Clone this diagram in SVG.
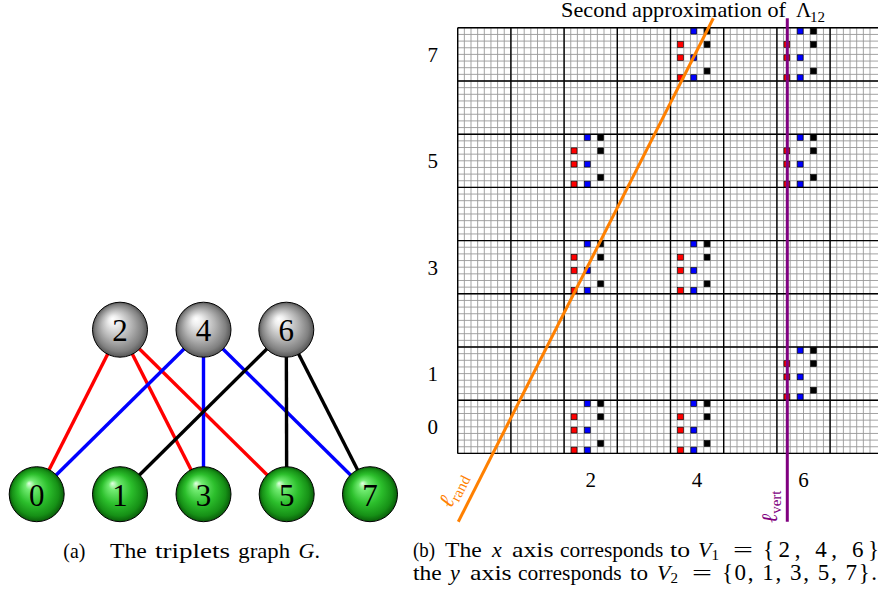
<svg xmlns="http://www.w3.org/2000/svg" xmlns:xlink="http://www.w3.org/1999/xlink" width="878" height="601" viewBox="0 0 878 601">
<style>
.serif{font-family:"Liberation Serif","DejaVu Serif",serif;fill:#000}
.nl{font-family:"Liberation Serif","DejaVu Serif",serif;font-size:31px;text-anchor:middle;fill:#000}
.edge{stroke-width:3.4;fill:none}
.red{stroke:#ff0000}.blue{stroke:#0000ff}.blk{stroke:#000}
.ball{stroke:#000;stroke-width:1}
.minor{stroke:#999999;stroke-width:0.9;fill:none}
.major{stroke:#000;stroke-width:1.4;fill:none}
.tick{font-family:"Liberation Serif","DejaVu Serif",serif;font-size:21px;text-anchor:middle;fill:#000}
.cap{font-family:"Liberation Serif","DejaVu Serif",serif;font-size:22px;fill:#000}
.it{font-style:italic}
.sq{stroke:#000;stroke-width:0.6}
</style>
<defs>
<radialGradient id="gGray" cx="0.5" cy="0.5" r="0.5" fx="0.36" fy="0.3">
<stop offset="0" stop-color="#ffffff"/>
<stop offset="0.18" stop-color="#eeeeee"/>
<stop offset="0.55" stop-color="#b4b4b4"/>
<stop offset="0.85" stop-color="#808080"/>
<stop offset="1" stop-color="#555555"/>
</radialGradient>
<radialGradient id="gGreen" cx="0.5" cy="0.5" r="0.5" fx="0.36" fy="0.3">
<stop offset="0" stop-color="#e4ffe4"/>
<stop offset="0.18" stop-color="#72ec72"/>
<stop offset="0.55" stop-color="#2cbf2c"/>
<stop offset="0.85" stop-color="#169016"/>
<stop offset="1" stop-color="#0a5c0a"/>
</radialGradient>
<g id="cl">
<rect class="sq" x="20.37" y="0.42" width="5.8" height="5.8" fill="#0000ff"/>
<rect class="sq" x="33.67" y="0.42" width="5.8" height="5.8" fill="#000"/>
<rect class="sq" x="7.07" y="13.72" width="5.8" height="5.8" fill="#ff0000"/>
<rect class="sq" x="33.67" y="13.72" width="5.8" height="5.8" fill="#000"/>
<rect class="sq" x="7.07" y="27.02" width="5.8" height="5.8" fill="#ff0000"/>
<rect class="sq" x="20.37" y="27.02" width="5.8" height="5.8" fill="#0000ff"/>
<rect class="sq" x="33.67" y="40.32" width="5.8" height="5.8" fill="#000"/>
<rect class="sq" x="7.07" y="46.97" width="5.8" height="5.8" fill="#ff0000"/>
<rect class="sq" x="20.37" y="46.97" width="5.8" height="5.8" fill="#0000ff"/>
</g>
</defs>

<!-- (a) graph -->
<g id="connectors">
<line class="edge red" x1="120" y1="329.7" x2="36.7" y2="494.2"/>
<line class="edge red" x1="120" y1="329.7" x2="203.5" y2="494.2"/>
<line class="edge red" x1="120" y1="329.7" x2="286.7" y2="494.2"/>
<line class="edge blue" x1="203.5" y1="329.7" x2="36.7" y2="494.2"/>
<line class="edge blue" x1="203.5" y1="329.7" x2="203.5" y2="494.2"/>
<line class="edge blue" x1="203.5" y1="329.7" x2="370" y2="494.2"/>
<line class="edge blk" x1="286.3" y1="329.7" x2="120" y2="494.2"/>
<line class="edge blk" x1="286.3" y1="329.7" x2="286.7" y2="494.2"/>
<line class="edge blk" x1="286.3" y1="329.7" x2="370" y2="494.2"/>
</g>
<g id="node-2"><circle class="ball" cx="120" cy="329.7" r="27.5" fill="url(#gGray)"/><text class="nl" x="120" y="340.7">2</text></g>
<g id="node-4"><circle class="ball" cx="203.5" cy="329.7" r="27.5" fill="url(#gGray)"/><text class="nl" x="203.5" y="340.7">4</text></g>
<g id="node-6"><circle class="ball" cx="286.3" cy="329.7" r="27.5" fill="url(#gGray)"/><text class="nl" x="286.3" y="340.7">6</text></g>
<g id="node-0"><circle class="ball" cx="36.7" cy="494.2" r="27.5" fill="url(#gGreen)"/><text class="nl" x="36.7" y="505.7">0</text></g>
<g id="node-1"><circle class="ball" cx="120" cy="494.2" r="27.5" fill="url(#gGreen)"/><text class="nl" x="120" y="505.7">1</text></g>
<g id="node-3"><circle class="ball" cx="203.5" cy="494.2" r="27.5" fill="url(#gGreen)"/><text class="nl" x="203.5" y="505.7">3</text></g>
<g id="node-5"><circle class="ball" cx="286.7" cy="494.2" r="27.5" fill="url(#gGreen)"/><text class="nl" x="286.7" y="505.7">5</text></g>
<g id="node-7"><circle class="ball" cx="370" cy="494.2" r="27.5" fill="url(#gGreen)"/><text class="nl" x="370" y="505.7">7</text></g>

<!-- (b) grid -->
<g id="grid">
<path class="minor" d="M457.7 27.8v425.6m6.65-425.6v425.6m6.65-425.6v425.6m6.65-425.6v425.6m6.65-425.6v425.6m6.65-425.6v425.6m6.65-425.6v425.6m6.65-425.6v425.6m6.65-425.6v425.6m6.65-425.6v425.6m6.65-425.6v425.6m6.65-425.6v425.6m6.65-425.6v425.6m6.65-425.6v425.6m6.65-425.6v425.6m6.65-425.6v425.6m6.65-425.6v425.6m6.65-425.6v425.6m6.65-425.6v425.6m6.65-425.6v425.6m6.65-425.6v425.6m6.65-425.6v425.6m6.65-425.6v425.6m6.65-425.6v425.6m6.65-425.6v425.6m6.65-425.6v425.6m6.65-425.6v425.6m6.65-425.6v425.6m6.65-425.6v425.6m6.65-425.6v425.6m6.65-425.6v425.6m6.65-425.6v425.6m6.65-425.6v425.6m6.65-425.6v425.6m6.65-425.6v425.6m6.65-425.6v425.6m6.65-425.6v425.6m6.65-425.6v425.6m6.65-425.6v425.6m6.65-425.6v425.6m6.65-425.6v425.6m6.65-425.6v425.6m6.65-425.6v425.6m6.65-425.6v425.6m6.65-425.6v425.6m6.65-425.6v425.6m6.65-425.6v425.6m6.65-425.6v425.6m6.65-425.6v425.6m6.65-425.6v425.6m6.65-425.6v425.6m6.65-425.6v425.6m6.65-425.6v425.6m6.65-425.6v425.6m6.65-425.6v425.6m6.65-425.6v425.6m6.65-425.6v425.6m6.65-425.6v425.6m6.65-425.6v425.6m6.65-425.6v425.6m6.65-425.6v425.6m6.65-425.6v425.6m6.65-425.6v425.6"/>
<path class="minor" d="M457.7 27.8h426m-426 6.65h426m-426 6.65h426m-426 6.65h426m-426 6.65h426m-426 6.65h426m-426 6.65h426m-426 6.65h426m-426 6.65h426m-426 6.65h426m-426 6.65h426m-426 6.65h426m-426 6.65h426m-426 6.65h426m-426 6.65h426m-426 6.65h426m-426 6.65h426m-426 6.65h426m-426 6.65h426m-426 6.65h426m-426 6.65h426m-426 6.65h426m-426 6.65h426m-426 6.65h426m-426 6.65h426m-426 6.65h426m-426 6.65h426m-426 6.65h426m-426 6.65h426m-426 6.65h426m-426 6.65h426m-426 6.65h426m-426 6.65h426m-426 6.65h426m-426 6.65h426m-426 6.65h426m-426 6.65h426m-426 6.65h426m-426 6.65h426m-426 6.65h426m-426 6.65h426m-426 6.65h426m-426 6.65h426m-426 6.65h426m-426 6.65h426m-426 6.65h426m-426 6.65h426m-426 6.65h426m-426 6.65h426m-426 6.65h426m-426 6.65h426m-426 6.65h426m-426 6.65h426m-426 6.65h426m-426 6.65h426m-426 6.65h426m-426 6.65h426m-426 6.65h426m-426 6.65h426m-426 6.65h426m-426 6.65h426m-426 6.65h426m-426 6.65h426m-426 6.65h426m-426 6.65h426"/>
<path class="major" d="M457.7 27.8V453.4M510.9 27.8V453.4M564.1 27.8V453.4M617.3 27.8V453.4M670.5 27.8V453.4M723.7 27.8V453.4M776.9 27.8V453.4M830.1 27.8V453.4M457.7 27.8H884M457.7 81H884M457.7 134.2H884M457.7 187.4H884M457.7 240.6H884M457.7 293.8H884M457.7 347H884M457.7 400.2H884M457.7 453.4H884"/>
</g>
<g id="clusters">
<use xlink:href="#cl" href="#cl" transform="translate(564.1,400.2)"/>
<use xlink:href="#cl" href="#cl" transform="translate(564.1,240.6)"/>
<use xlink:href="#cl" href="#cl" transform="translate(564.1,134.2)"/>
<use xlink:href="#cl" href="#cl" transform="translate(670.5,400.2)"/>
<use xlink:href="#cl" href="#cl" transform="translate(670.5,240.6)"/>
<use xlink:href="#cl" href="#cl" transform="translate(670.5,27.8)"/>
<use xlink:href="#cl" href="#cl" transform="translate(776.9,347)"/>
<use xlink:href="#cl" href="#cl" transform="translate(776.9,134.2)"/>
<use xlink:href="#cl" href="#cl" transform="translate(776.9,27.8)"/>
</g>
<g id="ticks">
<text class="tick" x="432.7" y="62">7</text>
<text class="tick" x="432.7" y="168.3">5</text>
<text class="tick" x="432.7" y="274.7">3</text>
<text class="tick" x="432.7" y="381.1">1</text>
<text class="tick" x="432.7" y="434.3">0</text>
<text class="tick" x="590.7" y="486.7">2</text>
<text class="tick" x="697.1" y="486.7">4</text>
<text class="tick" x="803.5" y="486.7">6</text>
</g>
<g id="lines">
<line x1="458.3" y1="521.7" x2="713.3" y2="18.3" stroke="#ff8000" stroke-width="3"/>
<line x1="787.3" y1="18.3" x2="787.3" y2="521.7" stroke="#800080" stroke-width="3"/>
</g>
<text class="serif" transform="translate(451,509) rotate(-63.1)" style="fill:#ff8000"><tspan class="it" font-size="22">ℓ</tspan><tspan font-size="15" dy="4">rand</tspan></text>
<text class="serif" transform="translate(777,523) rotate(-90)" style="fill:#800080"><tspan class="it" font-size="22">ℓ</tspan><tspan font-size="15" dy="4">vert</tspan></text>
<g id="title">
<text class="serif" x="561" y="17.3" font-size="21" textLength="225" lengthAdjust="spacingAndGlyphs">Second approximation of</text>
<text class="serif" x="796" y="17.3" font-size="21">Λ</text>
<text class="serif" x="810" y="21.5" font-size="15">12</text>
</g>

<!-- captions -->
<g id="caption-a" class="cap">
<text x="63.3" y="557.5" textLength="22" lengthAdjust="spacingAndGlyphs">(a)</text>
<text x="110" y="557.5" textLength="36.7" lengthAdjust="spacingAndGlyphs">The</text>
<text x="155" y="557.5" textLength="75" lengthAdjust="spacingAndGlyphs">triplets</text>
<text x="238.3" y="557.5" textLength="51.7" lengthAdjust="spacingAndGlyphs">graph</text>
<text x="298.5" y="557.5"><tspan class="it">G</tspan>.</text>
</g>
<g id="caption-b" class="cap">
<text x="413" y="557" textLength="22" lengthAdjust="spacingAndGlyphs">(b)</text>
<text x="445" y="557" textLength="36.7" lengthAdjust="spacingAndGlyphs">The</text>
<text x="492" y="557" class="it">x</text>
<text x="512" y="557" textLength="41.5" lengthAdjust="spacingAndGlyphs">axis</text>
<text x="560" y="557" textLength="103.3" lengthAdjust="spacingAndGlyphs">corresponds</text>
<text x="670" y="557" textLength="20" lengthAdjust="spacingAndGlyphs">to</text>
<text x="698" y="557"><tspan class="it">V</tspan><tspan font-size="15" dy="3">1</tspan></text>
<text x="733" y="557" textLength="20" lengthAdjust="spacingAndGlyphs">=</text>
<text x="763" y="557" font-size="23" textLength="116" lengthAdjust="spacing">{2, 4, 6}</text>
<text x="413" y="580" textLength="28.7" lengthAdjust="spacingAndGlyphs">the</text>
<text x="450" y="580" class="it">y</text>
<text x="470" y="580" textLength="41.7" lengthAdjust="spacingAndGlyphs">axis</text>
<text x="518" y="580" textLength="103.7" lengthAdjust="spacingAndGlyphs">corresponds</text>
<text x="630" y="580" textLength="18" lengthAdjust="spacingAndGlyphs">to</text>
<text x="657" y="580"><tspan class="it">V</tspan><tspan font-size="15" dy="3">2</tspan></text>
<text x="692" y="580" textLength="20" lengthAdjust="spacingAndGlyphs">=</text>
<text x="722" y="580" font-size="23" textLength="155" lengthAdjust="spacing">{0, 1, 3, 5, 7}.</text>
</g>
</svg>
